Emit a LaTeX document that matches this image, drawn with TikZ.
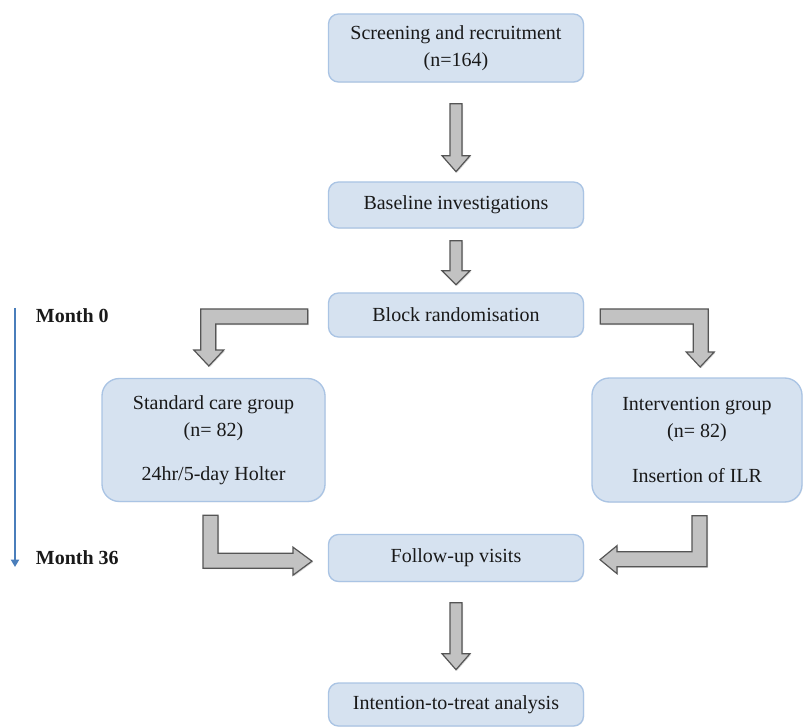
\documentclass[tikz,border=0pt]{standalone}
\usepackage{fontspec}
\setmainfont{Liberation Serif}
\usetikzlibrary{calc,shadows,arrows.meta}

\definecolor{boxfill}{RGB}{214,226,240}
\definecolor{boxline}{RGB}{170,196,228}
\definecolor{arrfill}{RGB}{194,194,194}
\definecolor{arrline}{RGB}{85,85,85}
\definecolor{timeblue}{RGB}{74,126,187}

\tikzset{every picture/.style={line width=0.75pt}}
\tikzset{
  stage/.style={draw=boxline, fill=boxfill, rounded corners=7.5pt, line width=1pt,
    minimum width=191.25pt, align=center, text=black!90,
    font=\fontsize{15}{20.25}\selectfont,
    drop shadow={shadow xshift=0.6pt, shadow yshift=-0.6pt, opacity=0.12}},
  group/.style={stage, rounded corners=13pt},
  blockarrow/.style={draw=arrline, fill=arrfill, line width=0.9pt, line join=miter,
    drop shadow={shadow xshift=0.8pt, shadow yshift=-0.8pt, opacity=0.3}},
  month/.style={anchor=west, text=black!90, font=\fontsize{15}{18}\selectfont\bfseries},
}

\begin{document}
\begin{tikzpicture}[x=0.75pt,y=0.75pt,yscale=-1,xscale=1]
	\useasboundingbox (0,0) rectangle (803,727);

	% Stage boxes
	\node[stage, minimum height=51pt] (screen) at (456,48) {Screening and recruitment\\(n=164)};
	\node[stage, minimum height=34.5pt] (base) at (456,205) {Baseline investigations};
	\node[stage, minimum height=33pt] (rand) at (456,315) {Block randomisation};
	\node[group, minimum width=167.25pt, minimum height=92.25pt] (stdc) at (213.5,440) {Standard care group\\(n= 82)\\[13pt]24hr/5-day Holter};
	\node[group, minimum width=157.5pt, minimum height=93pt] (ivn) at (697,440) {Intervention group\\(n= 82)\\[13pt]Insertion of ILR};
	\node[stage, minimum height=35.25pt] (fu) at (456,558) {Follow-up visits};
	\node[stage, minimum height=32.25pt] (itt) at (456,704.5) {Intention-to-treat analysis};

	%Straight block arrows
	\draw[blockarrow] ($(screen.south)+(-6,21)$) -- ++(0,52) -- ++(-8,0) -- ++(14,16) -- ++(14,-16) -- ++(-8,0) -- ++(0,-52) -- cycle;
	\draw[blockarrow] ($(base.south)+(-6,12)$) -- ++(0,30) -- ++(-8,0) -- ++(14,14) -- ++(14,-14) -- ++(-8,0) -- ++(0,-30) -- cycle;
	\draw[blockarrow] ($(fu.south)+(-6,20.5)$) -- ++(0,51) -- ++(-8,0) -- ++(14,16) -- ++(14,-16) -- ++(-8,0) -- ++(0,-51) -- cycle;

	%Elbow block arrows into the groups
	\draw[blockarrow] ($(rand.west)+(-20,-6)$) -- ++(-107,0) -- ++(0,41) -- ++(-7,0) -- ++(15,16) -- ++(15,-16) -- ++(-8,0) -- ++(0,-26) -- ++(92,0) -- cycle;
	\draw[blockarrow] ($(rand.east)+(16,-6)$) -- ++(108,0) -- ++(0,43) -- ++(6,0) -- ++(-14,15) -- ++(-14,-15) -- ++(7,0) -- ++(0,-28) -- ++(-93,0) -- cycle;

	%Elbow block arrows into the follow-up
	\draw[blockarrow] ($(stdc.south)+(-10.5,13)$) -- ++(0,53) -- ++(90,0) -- ++(0,7) -- ++(19,-14) -- ++(-19,-14) -- ++(0,6) -- ++(-75,0) -- ++(0,-38) -- cycle;
	\draw[blockarrow] ($(ivn.south)+(10,13)$) -- ++(0,51) -- ++(-90,0) -- ++(0,7) -- ++(-17,-14) -- ++(17,-14) -- ++(0,6) -- ++(75,0) -- ++(0,-36) -- cycle;

	%Time line
	\coordinate (t0) at (15,308);
	\coordinate (t36) at (15,567);
	\draw[timeblue, line width=1.6pt, -{Triangle[length=5.5pt,width=6pt]}] (t0) -- (t36);
	% Text Node
	\node[month] (m0) at (31,316) {Month 0};
	% Text Node
	\node[month] (m36) at (31,558) {Month 36};

\end{tikzpicture}
\end{document}
